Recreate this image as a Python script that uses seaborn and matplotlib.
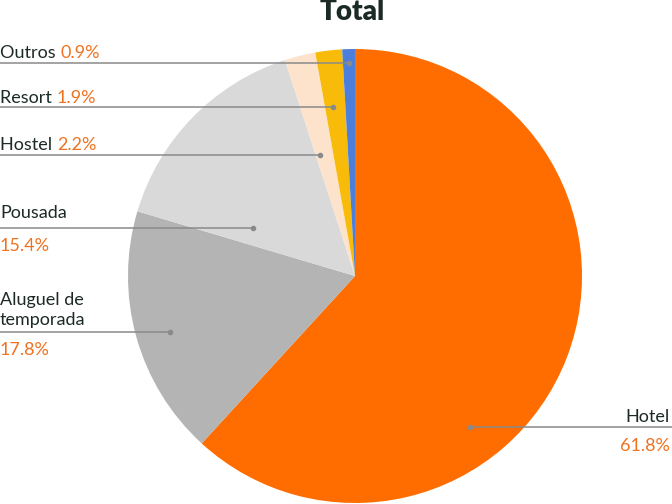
import matplotlib
matplotlib.use("Agg")
import matplotlib.pyplot as plt
import seaborn as sns

# ---- data ----
categories = ["Hotel", "Aluguel de temporada", "Pousada", "Hostel", "Resort", "Outros"]
values = [61.8, 17.8, 15.4, 2.2, 1.9, 0.9]
pct_labels = ["61.8%", "17.8%", "15.4%", "2.2%", "1.9%", "0.9%"]
colors = ["#ff6d00", "#b4b4b4", "#d9d9d9", "#fde3cc", "#f9bb0a", "#4b7fdb"]
title = "Total"

sns.set_theme(style="white")
plt.rcParams["font.family"] = ["Lato", "DejaVu Sans"]

W, H = 672, 504
fig = plt.figure(figsize=(W / 100, H / 100), dpi=100)
ax = fig.add_axes([0, 0, 1, 1])

def Y(y):
    return H - y

ax.pie(values, colors=colors, startangle=90, counterclock=False,
       center=(355, Y(276)), radius=227,
       wedgeprops=dict(linewidth=0, antialiased=True))
ax.set_xlim(0, W)
ax.set_ylim(0, H)
ax.set_aspect("equal")
ax.axis("off")

TXT = "#1c2a26"
ORG = "#f07220"
LINE = "#8a8a8a"
FS = 13

def leader(x0, x1, y, dotx):
    ax.plot([x0, x1], [Y(y), Y(y)], color=LINE, lw=1.1, solid_capstyle="butt", zorder=5)
    ax.plot([dotx], [Y(y)], "o", color=LINE, ms=3, zorder=6)

def inline_label(name, pct, x, base_y):
    t = ax.text(x, Y(base_y), name + " ", color=TXT, fontsize=FS, va="baseline", ha="left")
    ax.annotate(pct, xy=(1, 0), xycoords=t, color=ORG, fontsize=FS,
                va="bottom", ha="left")

# Outros, Resort, Hostel (single line labels)
inline_label(categories[5], pct_labels[5], 0, 58)
leader(0, 349, 63, 349)
inline_label(categories[4], pct_labels[4], 0, 103)
leader(0, 333, 107, 333)
inline_label(categories[3], pct_labels[3], 0, 150)
leader(0, 320, 155, 320)

# Pousada
ax.text(0, Y(218), categories[2], color=TXT, fontsize=FS, va="baseline", ha="left")
leader(0, 253, 228, 253)
ax.text(0, Y(251), pct_labels[2], color=ORG, fontsize=FS, va="baseline", ha="left")

# Aluguel de temporada
ax.text(0, Y(305), "Aluguel de", color=TXT, fontsize=FS, va="baseline", ha="left")
ax.text(0, Y(325), "temporada", color=TXT, fontsize=FS, va="baseline", ha="left")
leader(0, 170, 332, 170)
ax.text(0, Y(355), pct_labels[1], color=ORG, fontsize=FS, va="baseline", ha="left")

# Hotel
ax.text(670, Y(422), categories[0], color=TXT, fontsize=FS, va="baseline", ha="right")
leader(470, W, 427, 470)
ax.text(670, Y(451), pct_labels[0], color=ORG, fontsize=FS, va="baseline", ha="right")

# Title
ax.text(352, Y(20), title, color=TXT, fontsize=20, fontweight="heavy",
        va="baseline", ha="center")

fig.savefig("out.png", dpi=100)
